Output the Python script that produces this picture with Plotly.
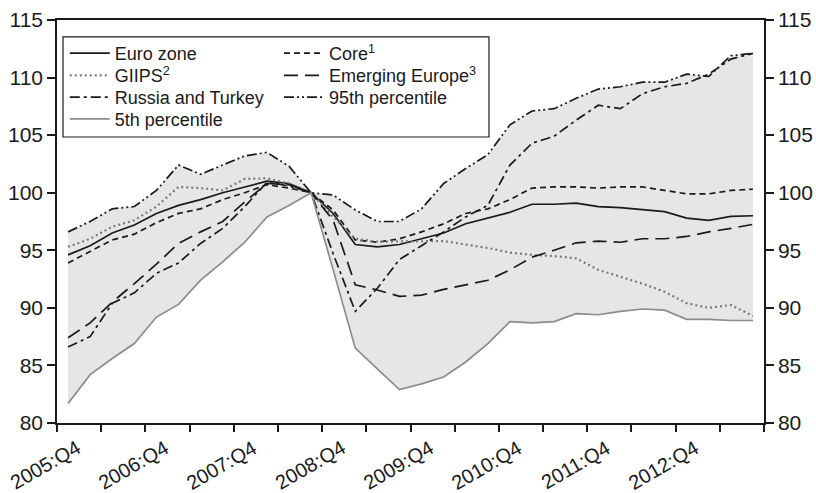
import plotly.graph_objects as go

quarters = [f"{y}:Q{q}" for y in range(2005, 2014) for q in range(1, 5)][3:35]

euro_zone = [94.6, 95.4, 96.5, 97.2, 98.2, 98.9, 99.4, 100.0, 100.5, 101.0, 100.8, 100.0,
             98.2, 95.5, 95.3, 95.5, 96.0, 96.5, 97.3, 97.8, 98.3, 99.0, 99.0, 99.1,
             98.8, 98.7, 98.5, 98.35, 97.8, 97.6, 97.95, 98.0]
core = [93.9, 94.9, 95.9, 96.4, 97.4, 98.2, 98.6, 99.4, 100.0, 100.7, 100.4, 100.0,
        98.5, 95.9, 95.7, 96.0, 96.6, 97.3, 98.2, 98.6, 99.4, 100.4, 100.5, 100.5,
        100.4, 100.5, 100.5, 100.2, 99.9, 99.9, 100.2, 100.3]
giips = [95.3, 96.0, 97.05, 97.6, 98.8, 100.5, 100.4, 100.2, 101.2, 101.25, 100.8, 100.0,
         97.9, 96.0, 95.75, 95.75, 95.8, 95.8, 95.5, 95.2, 94.8, 94.6, 94.5, 94.3,
         93.3, 92.7, 92.1, 91.4, 90.4, 90.0, 90.25, 89.3]
emerging_europe = [87.4, 88.7, 90.5, 92.1, 93.8, 95.6, 96.6, 97.5, 99.2, 100.8, 100.7, 100.0,
                   97.6, 92.0, 91.55, 91.0, 91.1, 91.6, 92.0, 92.4, 93.3, 94.4, 95.0, 95.65,
                   95.8, 95.7, 96.0, 96.0, 96.2, 96.6, 96.9, 97.25]
russia_turkey = [86.6, 87.5, 90.4, 91.3, 93.0, 93.9, 95.6, 96.9, 98.8, 100.9, 100.6, 100.0,
                 94.7, 89.7, 91.7, 94.2, 95.4, 96.6, 97.9, 98.9, 102.4, 104.3, 104.9, 106.3,
                 107.6, 107.3, 108.6, 109.2, 109.5, 110.3, 111.6, 112.1]
pct95 = [96.6, 97.5, 98.6, 98.8, 100.2, 102.4, 101.6, 102.4, 103.2, 103.5, 102.3, 100.0,
         99.8, 98.5, 97.5, 97.5, 98.6, 100.8, 102.1, 103.3, 105.9, 107.1, 107.3, 108.2,
         109.0, 109.2, 109.6, 109.6, 110.3, 110.1, 111.9, 112.1]
pct5 = [81.7, 84.2, 85.6, 86.9, 89.2, 90.3, 92.4, 94.0, 95.7, 97.9, 98.9, 100.0,
        93.3, 86.5, 84.7, 82.9, 83.4, 84.0, 85.3, 86.9, 88.8, 88.7, 88.8, 89.5,
        89.4, 89.7, 89.9, 89.8, 89.0, 89.0, 88.9, 88.9]

x = list(range(len(quarters)))
BLACK = "#1a1a1a"
FONT = "Liberation Sans, Arial, sans-serif"

fig = go.Figure()

# shaded band between the 5th and 95th percentile
fig.add_trace(go.Scatter(x=x, y=pct5, mode="lines", line=dict(width=0),
                         showlegend=False, hoverinfo="skip"))
fig.add_trace(go.Scatter(x=x, y=pct95, mode="lines", line=dict(width=0),
                         fill="tonexty", fillcolor="#e5e6e8",
                         showlegend=False, hoverinfo="skip"))

# one small legend per entry so the two-column box can be laid out by hand
series = [
    ("Euro zone", euro_zone, dict(color=BLACK, width=1.7, dash="solid"), 0.011, 0.917),
    ("Core<sup>1</sup>", core, dict(color=BLACK, width=1.7, dash="6px,4px"), 0.314, 0.917),
    ("GIIPS<sup>2</sup>", giips, dict(color="#7a7a7a", width=2.2, dash="2px,3px"), 0.011, 0.862),
    ("Emerging Europe<sup>3</sup>", emerging_europe, dict(color=BLACK, width=1.7, dash="14px,7px"), 0.314, 0.862),
    ("Russia and Turkey", russia_turkey, dict(color=BLACK, width=1.7, dash="10px,4px,3px,4px"), 0.011, 0.808),
    ("95th percentile", pct95, dict(color=BLACK, width=1.7, dash="10px,3px,2px,3px,2px,3px"), 0.314, 0.808),
    ("5th percentile", pct5, dict(color="#8c8c8c", width=1.7, dash="solid"), 0.011, 0.754),
]

legends = {}
for k, (name, vals, line, lx, ly) in enumerate(series):
    key = "legend" if k == 0 else f"legend{k + 1}"
    fig.add_trace(go.Scatter(x=x, y=vals, mode="lines", name=name, line=line, legend=key,
                             yaxis="y2" if name == "95th percentile" else "y"))
    legends[key] = dict(x=lx, y=ly, xanchor="left", yanchor="middle",
                        font=dict(family=FONT, size=18, color=BLACK),
                        bgcolor="rgba(0,0,0,0)", borderwidth=0, itemwidth=40)

# slanted quarter labels, one every four quarters
labels = [dict(x=i, y=0, xref="x", yref="paper", text=quarters[i], showarrow=False,
               textangle=-30, xanchor="center", yanchor="middle", xshift=-23, yshift=-42,
               font=dict(family=FONT, size=20, color=BLACK))
          for i in x[::4]]

fig.update_layout(
    width=816, height=493,
    margin=dict(l=57, r=52, t=20, b=70, autoexpand=False),
    paper_bgcolor="white", plot_bgcolor="white",
    font=dict(family=FONT, size=21, color=BLACK),
    annotations=labels,
    shapes=[dict(type="rect", xref="paper", yref="paper", x0=0.0085, x1=0.611,
                 y0=0.7097, y1=0.958, fillcolor="white", line=dict(color=BLACK, width=1.2),
                 layer="above")],
    xaxis=dict(range=[-0.5, len(quarters) - 0.5], showgrid=False, zeroline=False,
               showline=True, linecolor=BLACK, linewidth=1.5, mirror=True, automargin=False,
               showticklabels=False, ticks="",
               minor=dict(tickvals=[i - 0.5 for i in range(0, len(quarters) + 1, 2)],
                          ticks="outside", ticklen=7, tickcolor=BLACK, tickwidth=1.5)),
    yaxis=dict(range=[80, 115], dtick=5, showgrid=False, zeroline=False, automargin=False,
               showline=True, linecolor=BLACK, linewidth=1.5,
               ticks="outside", ticklen=8, tickcolor=BLACK, tickwidth=1.5),
    yaxis2=dict(range=[80, 115], dtick=5, overlaying="y", side="right", showgrid=False,
                zeroline=False, showline=True, linecolor=BLACK, linewidth=1.5, automargin=False,
                ticks="outside", ticklen=8, tickcolor=BLACK, tickwidth=1.5),
    **legends,
)

fig.write_html("out.html", config={"displayModeBar": False},
               post_script="document.body.style.margin = '0';")
